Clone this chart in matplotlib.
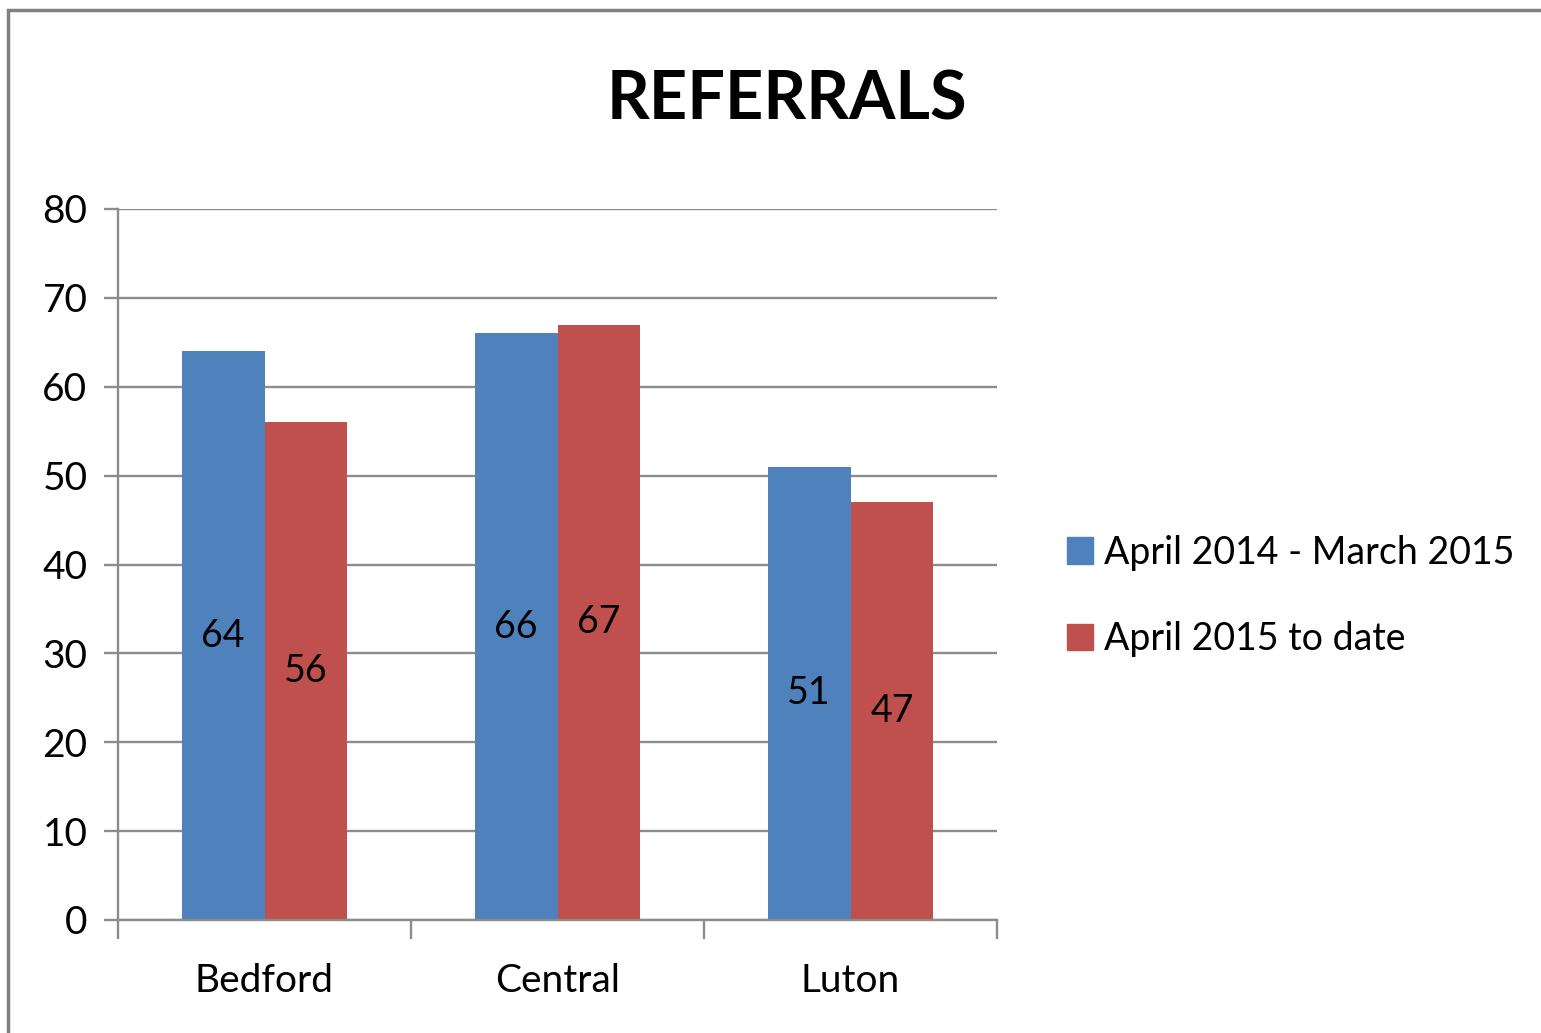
import matplotlib.pyplot as plt
import numpy as np
from matplotlib.patches import Rectangle, Patch

plt.rcParams['font.family'] = ['Lato', 'DejaVu Sans']

categories = ['Bedford', 'Central', 'Luton']
series_names = ['April 2014 - March 2015', 'April 2015 to date']
values_2014 = [64, 66, 51]
values_2015 = [56, 67, 47]
colors = ['#4F81BD', '#C0504D']
grid_color = '#8C8C8C'

fig = plt.figure(figsize=(15.41, 10.33), dpi=100)

# outer chart frame (cropped on right/bottom in the original)
fig.patches.append(Rectangle((8 / 1541, -0.05), 1.1, 1 - 10 / 1033 + 0.05,
                             transform=fig.transFigure, fill=False,
                             edgecolor='#808080', linewidth=2.5))

ax = fig.add_axes([118 / 1541, 1 - 920 / 1033, 879 / 1541, 711 / 1033])

x = np.arange(len(categories))
w = 0.283
b1 = ax.bar(x - w / 2, values_2014, w, color=colors[0], label=series_names[0], zorder=2)
b2 = ax.bar(x + w / 2, values_2015, w, color=colors[1], label=series_names[1], zorder=2)

for bars in (b1, b2):
    for r in bars:
        ax.text(r.get_x() + r.get_width() / 2, r.get_height() / 2, f'{int(r.get_height())}',
                ha='center', va='center', fontsize=27, color='black', zorder=3)

ax.set_xlim(-0.5, 2.5)
ax.set_ylim(0, 80)
ax.set_yticks(range(0, 81, 10))
ax.yaxis.grid(True, color=grid_color, linewidth=1.7, zorder=0)
ax.set_axisbelow(True)

ax.set_xticks(x)
ax.set_xticklabels(categories)
ax.set_xticks([-0.5, 0.5, 1.5, 2.5], minor=True)
ax.tick_params(axis='x', which='major', length=0, pad=31, labelsize=28)
ax.tick_params(axis='x', which='minor', length=14, width=1.7, color=grid_color)
ax.tick_params(axis='y', length=10, width=1.7, color=grid_color, labelsize=28, pad=12)

for s in ['top', 'right']:
    ax.spines[s].set_visible(False)
for s in ['left', 'bottom']:
    ax.spines[s].set_color(grid_color)
    ax.spines[s].set_linewidth(1.7)

fig.text(787 / 1541, 1 - 100 / 1033, 'REFERRALS', ha='center', va='center',
         fontsize=48, fontweight='bold')

handles = [Patch(color=colors[0]), Patch(color=colors[1])]
fig.legend(handles, series_names, loc='center left',
           bbox_to_anchor=(1033 / 1541, 1 - 596 / 1033), frameon=False,
           fontsize=27, handlelength=0.7, handleheight=0.7, handletextpad=0.3,
           labelspacing=1.35)

fig.savefig('out.png', dpi=100)
